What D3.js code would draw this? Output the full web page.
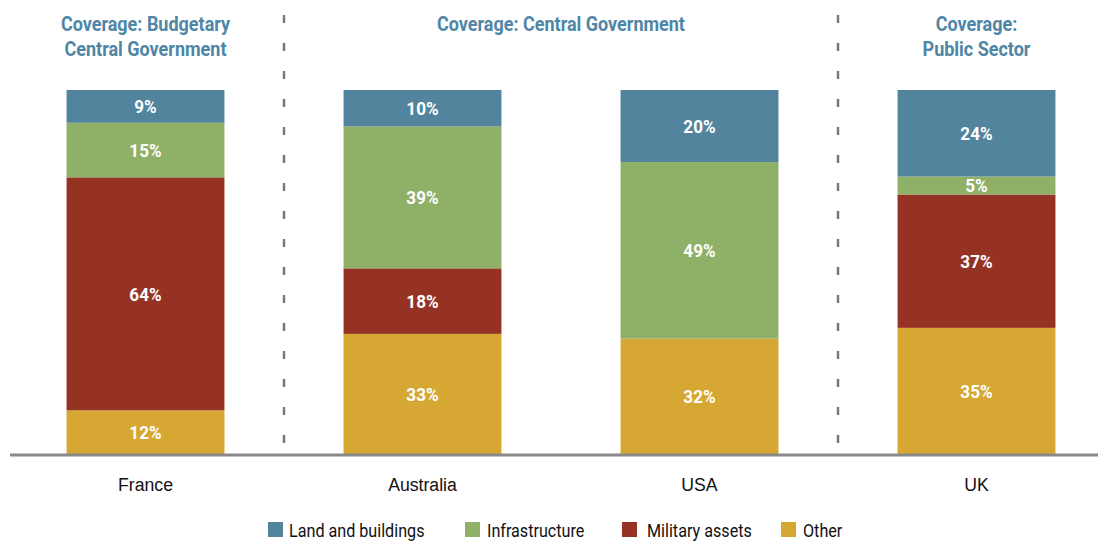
<!DOCTYPE html>
<html>
<head>
<meta charset="utf-8">
<script src="https://cdn.jsdelivr.net/npm/d3@7"></script>
<style>
  body { margin: 0; background: #fff; }
  svg { display: block; font-family: "Roboto", "Liberation Sans", sans-serif; }
</style>
</head>
<body>
<div id="chart"></div>
<script>
// chart size
const width = 1098;
const height = 542;

// data
const countries = ["France", "Australia", "USA", "UK"];
const series = ["Land and buildings", "Infrastructure", "Military assets", "Other"];
const landBuildings = [9, 10, 20, 24];
const infrastructure = [15, 39, 49, 5];
const militaryAssets = [64, 18, 0, 37];
const other = [12, 33, 32, 35];
const colors = ["#52849e", "#8fb067", "#963224", "#d6a833"];

const headers = [
  {lines: ["Coverage: Budgetary", "Central Government"], from: 0, to: 0},
  {lines: ["Coverage: Central Government"], from: 1, to: 2},
  {lines: ["Coverage:", "Public Sector"], from: 3, to: 3}
];

// no condensed font installed, so squeeze text horizontally
const narrowAxis = 0.93;
const narrowLegend = 0.85;
const narrowBold = 0.9;

// build rows
const rows = countries.map((c, i) => ({
  country: c,
  "Land and buildings": landBuildings[i],
  "Infrastructure": infrastructure[i],
  "Military assets": militaryAssets[i],
  "Other": other[i]
}));

// stack from bottom: Other first
const stackOrder = series.slice().reverse();
const stacked = d3.stack()
  .keys(stackOrder)
  .offset(d3.stackOffsetExpand)(rows);

const svg = d3.select("#chart")
  .append("svg")
  .attr("width", width)
  .attr("height", height);

const xScale = d3.scaleBand()
  .domain(countries)
  .range([7, 1115])
  .paddingInner(0.43)
  .paddingOuter(0.215);

const yScale = d3.scaleLinear()
  .domain([0, 1])
  .range([454, 90]);

const colorScale = d3.scaleOrdinal()
  .domain(series)
  .range(colors);

// bars
const layer = svg.selectAll(".layer")
  .data(stacked)
  .enter()
  .append("g")
    .attr("class", "layer")
    .attr("fill", d => colorScale(d.key));

layer.selectAll("rect")
  .data(d => d.map(p => ({p: p, key: d.key})))
  .enter()
  .append("rect")
    .attr("x", d => xScale(d.p.data.country))
    .attr("y", d => yScale(d.p[1]))
    .attr("width", xScale.bandwidth())
    .attr("height", d => yScale(d.p[0]) - yScale(d.p[1]));

// value labels
layer.selectAll("text")
  .data(d => d.map(p => ({p: p, key: d.key})).filter(d => d.p.data[d.key] > 0))
  .enter()
  .append("text")
    .attr("transform", d => {
      const cx = xScale(d.p.data.country) + xScale.bandwidth() / 2;
      const cy = (yScale(d.p[0]) + yScale(d.p[1])) / 2;
      return `translate(${cx},${cy}) scale(${narrowBold},1)`;
    })
    .attr("dy", "0.36em")
    .attr("text-anchor", "middle")
    .attr("fill", "#fff")
    .attr("font-weight", "bold")
    .attr("font-size", "19px")
    .text(d => d.p.data[d.key] + "%");

// dashed dividers
const dividers = [
  (xScale("France") + xScale.bandwidth() + xScale("Australia")) / 2,
  (xScale("USA") + xScale.bandwidth() + xScale("UK")) / 2
];
svg.selectAll(".divider")
  .data(dividers)
  .enter()
  .append("line")
    .attr("class", "divider")
    .attr("x1", d => d).attr("x2", d => d)
    .attr("y1", 15).attr("y2", 446)
    .attr("stroke", "#7a7a7a")
    .attr("stroke-width", 2.5)
    .attr("stroke-dasharray", "8,20");

// x axis
const xAxis = svg.append("g")
  .attr("transform", "translate(0,454)")
  .call(d3.axisBottom(xScale).tickSize(0).tickPadding(24));
xAxis.select(".domain").remove();
xAxis.selectAll("text")
  .attr("font-size", "19px")
  .attr("fill", "#111")
  .attr("font-family", null)
  .attr("transform", `scale(${narrowAxis},1)`);
svg.append("line")
  .attr("x1", 10).attr("x2", width)
  .attr("y1", 455).attr("y2", 455)
  .attr("stroke", "#8a8a8a")
  .attr("stroke-width", 3);

// group headers
const headerX = d => (xScale(countries[d.from]) + xScale(countries[d.to]) + xScale.bandwidth()) / 2;
const header = svg.selectAll(".header")
  .data(headers)
  .enter()
  .append("text")
    .attr("class", "header")
    .attr("transform", d => `translate(${headerX(d)},31) scale(${narrowBold},1)`)
    .attr("text-anchor", "middle")
    .attr("fill", "#4f86a6")
    .attr("font-weight", "bold")
    .attr("font-size", "20px");
header.selectAll("tspan")
  .data(d => d.lines)
  .enter()
  .append("tspan")
    .attr("x", 0)
    .attr("dy", (d, i) => i === 0 ? 0 : 25)
    .text(d => d);

// legend
const legendX = [268, 465, 622, 781];
const legendGap = [21, 22, 25, 22];
const legend = svg.selectAll(".legend")
  .data(series)
  .enter()
  .append("g")
    .attr("class", "legend")
    .attr("transform", (d, i) => `translate(${legendX[i]},522)`);
legend.append("rect")
  .attr("width", 15)
  .attr("height", 15)
  .attr("fill", d => colorScale(d));
legend.append("text")
  .attr("transform", (d, i) => `translate(${legendGap[i]},15) scale(${narrowLegend},1)`)
  .attr("font-size", "19px")
  .attr("fill", "#111")
  .text(d => d);
</script>
</body>
</html>
